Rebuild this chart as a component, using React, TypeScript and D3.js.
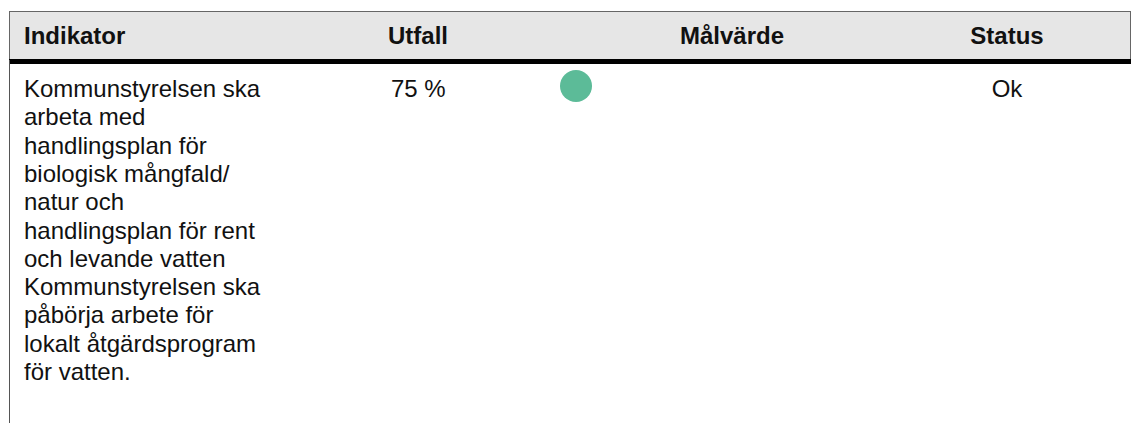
import React from "react";
import * as d3 from "d3";

const columns = ["Indikator", "Utfall", "Målvärde", "Status"];
const indicatorLines = [
  "Kommunstyrelsen ska",
  "arbeta med",
  "handlingsplan för",
  "biologisk mångfald/",
  "natur och",
  "handlingsplan för rent",
  "och levande vatten",
  "Kommunstyrelsen ska",
  "påbörja arbete för",
  "lokalt åtgärdsprogram",
  "för vatten.",
];
const utfall = ["75 %"];
const statusValues = ["Ok"];
const statusColors = ["#5cbb98"];

const W = 1132;
const H = 423;
const FONT = "'Liberation Sans', Arial, Helvetica, sans-serif";

export default function App() {
  // column anchor positions
  const colX = d3.scaleOrdinal<string, number>().domain(columns).range([24, 388, 732, 1007]);
  const colAnchor = d3.scaleOrdinal<string, string>().domain(columns).range(["start", "start", "middle", "middle"]);
  const lineY = d3.scaleLinear().domain([0, 1]).range([97, 125.3]);

  return (
    <svg
      width={W}
      height={H}
      style={{ position: "absolute", left: 0, top: 0, background: "#fff" }}
      fontFamily={FONT}
    >
      {/* header */}
      <rect x={9.5} y={11.5} width={1121} height={48} fill="#e6e6e6" stroke="#666" strokeWidth={1} />
      <rect x={9} y={59} width={1122} height={5} fill="#000" />
      <line x1={9.5} x2={9.5} y1={60} y2={H} stroke="#555" strokeWidth={1} />
      {columns.map((c) => (
        <text
          key={c}
          x={colX(c)}
          y={44}
          textAnchor={colAnchor(c)}
          fontSize={24}
          fontWeight="bold"
          fill="#111"
        >
          {c}
        </text>
      ))}
      {/* body */}
      {indicatorLines.map((l, i) => (
        <text key={i} x={colX("Indikator")} y={lineY(i)} fontSize={24} fill="#111">
          {l}
        </text>
      ))}
      {utfall.map((u, i) => (
        <text key={"u" + i} x={colX("Utfall") + 3} y={lineY(0)} fontSize={24} fill="#111">
          {u}
        </text>
      ))}
      {statusColors.map((c, i) => (
        <circle key={"c" + i} cx={576} cy={86} r={16} fill={c} />
      ))}
      {statusValues.map((s, i) => (
        <text key={"s" + i} x={colX("Status")} y={lineY(0)} textAnchor="middle" fontSize={24} fill="#111">
          {s}
        </text>
      ))}
    </svg>
  );
}
